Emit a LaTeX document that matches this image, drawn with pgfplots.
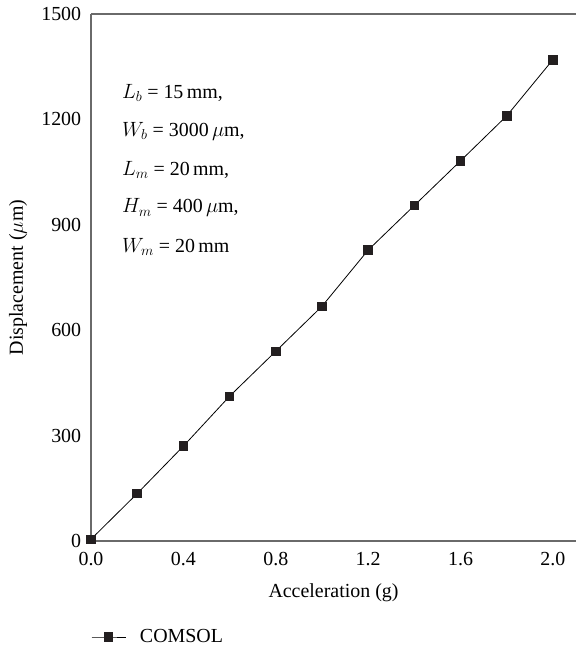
\documentclass[border=0pt]{standalone}
\usepackage{pgfplots}
\pgfplotsset{compat=1.18}
\usepackage{fontspec}
\setmainfont{Liberation Serif}
\definecolor{axgray}{HTML}{6A6A6A}
\definecolor{mk}{HTML}{231F20}
\newcommand{\bigf}{\fontsize{20}{23}\selectfont}
\begin{document}
\bigf
\begin{tikzpicture}[x=1bp,y=1bp]
\useasboundingbox (-91,-109) rectangle (485,541);
\begin{axis}[
  at={(0,0)}, anchor=south west,
  scale only axis, width=485bp, height=527bp,
  xmin=0, xmax=2.1, ymin=0, ymax=1500,
  axis x line=box, axis y line=left,
  axis line style={draw=axgray, line width=1.5bp, -},
  xtick={0,0.4,0.8,1.2,1.6,2.0},
  ytick={0,300,600,900,1200,1500},
  major tick length=0pt,
  x tick label style={/pgf/number format/fixed, /pgf/number format/fixed zerofill, /pgf/number format/precision=1, yshift=-4bp},
  y tick label style={/pgf/number format/fixed, /pgf/number format/1000 sep={}, xshift=-3bp},
  /pgf/number format/assume math mode=true,
  ticklabel style={font=\bigf},
  label style={font=\bigf},
  xlabel={Acceleration (g)},
  ylabel={Displacement ($\mu$m)},
  xlabel style={at={(axis description cs:0.5,0)}, anchor=center, yshift=-52bp},
  ylabel style={at={(axis description cs:0,0.5)}, anchor=center, yshift=73bp},
  clip=false,
  legend style={draw=none, fill=none, at={(0,0)}, anchor=west, yshift=-96bp, xshift=-3bp, font=\bigf},
  legend cell align=left,
  legend image code/.code={\draw[mark repeat=2,mark phase=2,#1] plot coordinates {(0bp,0bp) (17bp,0bp) (34bp,0bp)}; \path (46bp,0bp);},
]
\addplot[black, line width=0.8bp, mark=square*, mark size=4.3bp, mark options={fill=mk, draw=mk}] coordinates {
(0,5) (0.2,135) (0.4,270) (0.6,412) (0.8,540) (1.0,668) (1.2,828) (1.4,955) (1.6,1082) (1.8,1210) (2.0,1370)
};
\addlegendentry{COMSOL}
\node[anchor=west] at (axis cs:0.105,1276) {$L_b$ = 15\,mm,};
\node[anchor=west] at (axis cs:0.105,1165) {$W_b$ = 3000\,$\mu$m,};
\node[anchor=west] at (axis cs:0.105,1057) {$L_m$ = 20\,mm,};
\node[anchor=west] at (axis cs:0.105,948) {$H_m$ = 400\,$\mu$m,};
\node[anchor=west] at (axis cs:0.105,838) {$W_m$ = 20\,mm};
\end{axis}
\end{tikzpicture}
\end{document}
